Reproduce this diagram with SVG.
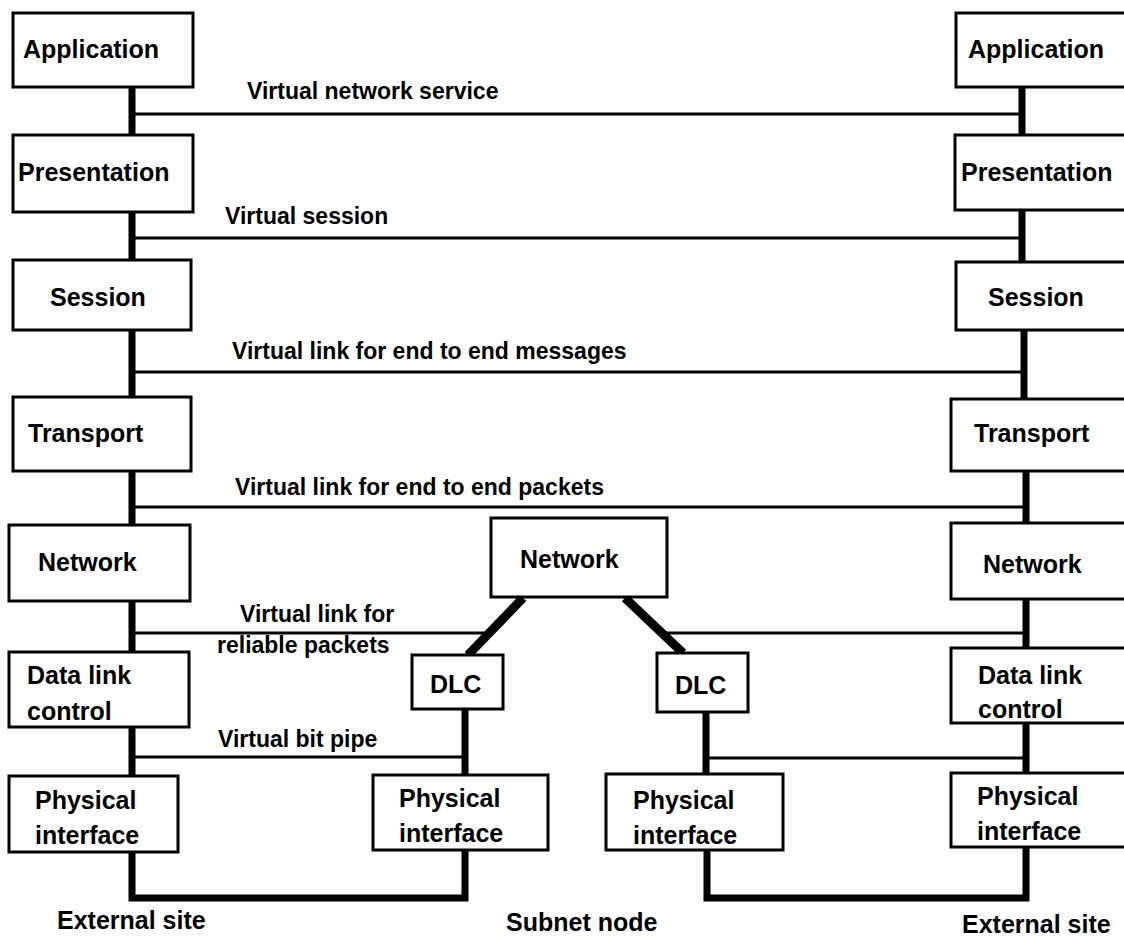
<svg xmlns="http://www.w3.org/2000/svg" width="1124" height="941" viewBox="0 0 1124 941">
<style>
.box{fill:#fff;stroke:#000;stroke-width:3}
.t{font-family:"Liberation Sans",Arial,sans-serif;font-weight:bold;font-size:25px;fill:#000}
.l{font-family:"Liberation Sans",Arial,sans-serif;font-weight:bold;font-size:23px;fill:#000}
.b{font-family:"Liberation Sans",Arial,sans-serif;font-weight:bold;font-size:25px;fill:#000}
.thin{stroke:#000;stroke-width:3;fill:none}
.thick{stroke:#000;stroke-width:7;fill:none}
.diag{stroke:#000;stroke-width:9;fill:none}
</style>
<rect width="1124" height="941" fill="#fff"/>
<g id="connectors">
<path class="thick" d="M132 87V135M132 212V260M132 330V397M132 471V525M132 601V652M132 727V776M132 852V898H465V850"/>
<path class="thick" d="M1022 87V135M1022 210V262M1024 330V399M1026 471V523M1026 599V648M1026 723V773M1026 847V898H707V850"/>
<path class="thick" d="M465 708V775M706 712V774"/>
<path class="diag" d="M523 598L468 655M625 598L683 653"/>
<path class="thin" d="M132 114H1022M132 238H1022M132 372H1024M132 507H1026M132 633H489M663 633H1026M132 757H465M706 758H1026"/>
</g>
<g id="left-application"><rect class="box" x="13" y="13" width="180" height="74"/><text class="t" x="23" y="58">Application</text></g>
<g id="left-presentation"><rect class="box" x="13" y="135" width="180" height="77"/><text class="t" x="18" y="181">Presentation</text></g>
<g id="left-session"><rect class="box" x="13" y="260" width="178" height="70"/><text class="t" x="50" y="306">Session</text></g>
<g id="left-transport"><rect class="box" x="13" y="397" width="178" height="74"/><text class="t" x="28" y="442">Transport</text></g>
<g id="left-network"><rect class="box" x="9" y="525" width="181" height="76"/><text class="t" x="38" y="571">Network</text></g>
<g id="left-dlc"><rect class="box" x="9" y="652" width="180" height="75"/><text class="t" x="27" y="684">Data link</text><text class="t" x="27" y="720">control</text></g>
<g id="left-physical"><rect class="box" x="9" y="776" width="169" height="76"/><text class="t" x="35" y="809">Physical</text><text class="t" x="35" y="844">interface</text></g>
<g id="subnet-network"><rect class="box" x="491" y="518" width="176" height="79"/><text class="t" x="520" y="568">Network</text></g>
<g id="subnet-dlc-left"><rect class="box" x="412" y="655" width="91" height="54"/><text class="t" x="430" y="693">DLC</text></g>
<g id="subnet-dlc-right"><rect class="box" x="657" y="653" width="91" height="59"/><text class="t" x="675" y="694">DLC</text></g>
<g id="subnet-physical-left"><rect class="box" x="373" y="775" width="175" height="75"/><text class="t" x="399" y="807">Physical</text><text class="t" x="399" y="842">interface</text></g>
<g id="subnet-physical-right"><rect class="box" x="606" y="774" width="177" height="76"/><text class="t" x="633" y="809">Physical</text><text class="t" x="633" y="844">interface</text></g>
<g id="right-application"><rect class="box" x="956" y="13" width="180" height="74"/><text class="t" x="968" y="58">Application</text></g>
<g id="right-presentation"><rect class="box" x="955" y="135" width="180" height="75"/><text class="t" x="961" y="181">Presentation</text></g>
<g id="right-session"><rect class="box" x="956" y="262" width="180" height="68"/><text class="t" x="988" y="306">Session</text></g>
<g id="right-transport"><rect class="box" x="951" y="399" width="180" height="72"/><text class="t" x="974" y="442">Transport</text></g>
<g id="right-network"><rect class="box" x="951" y="523" width="180" height="76"/><text class="t" x="983" y="573">Network</text></g>
<g id="right-dlc"><rect class="box" x="951" y="648" width="180" height="75"/><text class="t" x="978" y="684">Data link</text><text class="t" x="978" y="718">control</text></g>
<g id="right-physical"><rect class="box" x="951" y="773" width="180" height="74"/><text class="t" x="977" y="805">Physical</text><text class="t" x="977" y="840">interface</text></g>
<g id="labels">
<text class="l" x="247" y="99">Virtual network service</text>
<text class="l" x="225" y="224">Virtual session</text>
<text class="l" x="232" y="359">Virtual link for end to end messages</text>
<text class="l" x="235" y="495">Virtual link for end to end packets</text>
<text class="l" x="240" y="622">Virtual link for</text>
<text class="l" x="217" y="653">reliable packets</text>
<text class="l" x="218" y="747">Virtual bit pipe</text>
<text class="b" x="57" y="929">External site</text>
<text class="b" x="506" y="931">Subnet node</text>
<text class="b" x="962" y="933">External site</text>
</g>
</svg>
